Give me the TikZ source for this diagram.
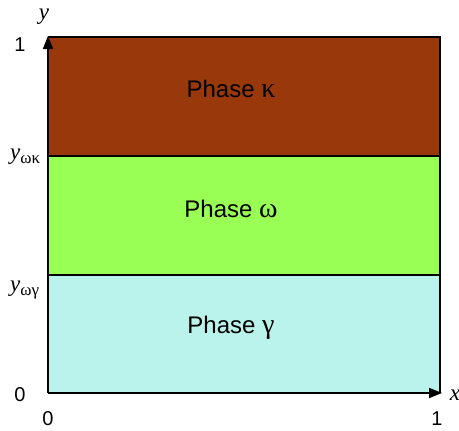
\documentclass[tikz,border=0pt]{standalone}
\usepackage{fontspec}
\setmainfont{Liberation Sans}
\newfontfamily\tnr{Liberation Serif}
\usetikzlibrary{arrows.meta}
\definecolor{kappacol}{RGB}{153,56,11}
\definecolor{omegacol}{RGB}{153,255,85}
\definecolor{gammacol}{RGB}{186,242,236}
\newcommand{\grk}[1]{{\tnr\fontsize{28}{30}\selectfont #1}}
\tikzset{
  region/.style={draw=black, line width=1.5pt},
  axis/.style={line width=1.8pt, -{Triangle[length=13pt,width=10pt]}},
  phaselbl/.style={font=\fontsize{24}{28}\selectfont},
  ticklbl/.style={inner sep=0pt, font=\fontsize{20}{23}\selectfont},
  varlbl/.style={inner sep=1pt, font=\tnr\itshape\fontsize{23}{26}\selectfont},
}
\begin{document}
\begin{tikzpicture}[x=1pt,y=-1pt]
\useasboundingbox (0,0) rectangle (459,431);
\fill[kappacol] (48,37) rectangle (440,156);
\fill[omegacol] (48,156) rectangle (440,275);
\fill[gammacol] (48,275) rectangle (440,393);
\draw[region] (48,37) -- (440,37) -- (440,393);
\draw[region] (48,156) -- (440,156);
\draw[region] (48,275) -- (440,275);
\coordinate (o) at (48,393);
\coordinate (ytip) at (48,36);
\coordinate (xtip) at (442,393);
\draw[axis] (o) -- (ytip);
\draw[axis] (o) -- (xtip);
\node[phaselbl] (pk) at (231,89) {Phase \grk{κ}};
\node[phaselbl] (pw) at (231,209) {Phase \grk{ω}};
\node[phaselbl] (pg) at (231,328) {Phase \grk{γ}};
\node[varlbl] (ylab) at (44,17) {y};
\node[varlbl] (xlab) at (455,395) {x};
\node[ticklbl] (y1) at (20,45) {1};
\node[ticklbl] (y0) at (20,395) {0};
\node[ticklbl] (x0) at (48,419) {0};
\node[ticklbl] (x1) at (437,419) {1};
\node[varlbl, anchor=west] (ywk) at (9,157) {y\raisebox{-0.35ex}{\upshape\fontsize{17}{19}\selectfont ωκ}};
\node[varlbl, anchor=west] (ywg) at (9,290) {y\raisebox{-0.35ex}{\upshape\fontsize{17}{19}\selectfont ωγ}};
\end{tikzpicture}
\end{document}
